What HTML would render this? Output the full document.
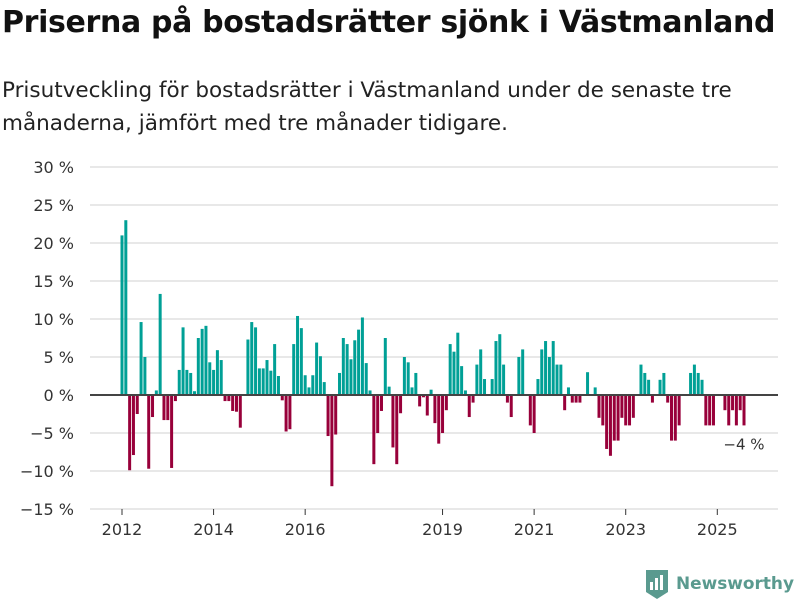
<!DOCTYPE html>
<html><head><meta charset="utf-8"><style>
body{margin:0;width:800px;height:600px;background:#fff;font-family:"Liberation Sans","DejaVu Sans",sans-serif;overflow:hidden}
h1{position:absolute;left:2px;top:5px;margin:0;font-size:30px;font-weight:bold;color:#111;font-family:"DejaVu Sans","Liberation Sans",sans-serif;letter-spacing:-0.35px;white-space:nowrap}
p{position:absolute;left:2px;top:74px;margin:0;font-size:21.5px;line-height:33px;color:#222;font-family:"DejaVu Sans","Liberation Sans",sans-serif;width:790px}
svg{position:absolute;left:0;top:0}
</style></head><body>
<h1>Priserna på bostadsrätter sjönk i Västmanland</h1>
<p>Prisutveckling för bostadsrätter i Västmanland under de senaste tre månaderna, jämfört med tre månader tidigare.</p>
<svg id="chart" width="800" height="600"></svg>
<script>
const values=[21.0,23.0,-9.9,-7.9,-2.5,9.6,5.0,-9.7,-2.9,0.6,13.3,-3.3,-3.3,-9.6,-0.8,3.3,8.9,3.3,2.9,0.5,7.5,8.7,9.1,4.3,3.3,5.9,4.6,-0.8,-0.8,-2.1,-2.2,-4.3,0,7.3,9.6,8.9,3.5,3.5,4.6,3.2,6.7,2.5,-0.7,-4.8,-4.5,6.7,10.4,8.8,2.6,1.0,2.6,6.9,5.1,1.7,-5.4,-12.0,-5.2,2.9,7.5,6.7,4.7,7.2,8.6,10.2,4.2,0.6,-9.1,-5.0,-2.1,7.5,1.1,-6.9,-9.1,-2.4,5.0,4.3,1.0,2.9,-1.5,-0.3,-2.7,0.7,-3.7,-6.4,-5.0,-2.0,6.7,5.7,8.2,3.8,0.6,-2.9,-1.0,4.0,6.0,2.1,0,2.1,7.1,8.0,4.0,-1.0,-2.9,0,5.0,6.0,0,-4.0,-5.0,2.1,6.0,7.1,5.0,7.1,4.0,4.0,-2.0,1.0,-1.0,-1.0,-1.0,0,3.0,0,1.0,-3.0,-4.0,-7.1,-8.0,-6.0,-6.0,-3.0,-4.0,-4.0,-3.0,0,4.0,2.9,2.0,-1.0,0,2.0,2.9,-1.0,-6.0,-6.0,-4.0,0,0,2.9,4.0,2.9,2.0,-4.0,-4.0,-4.0,0,0,-2.0,-4.0,-2.0,-4.0,-2.0,-4.0];
const yTicks=[30,25,20,15,10,5,0,-5,-10,-15];
const xYears=[2012,2014,2016,2019,2021,2023,2025];
const lastLabel="−4 %";
const NS="http://www.w3.org/2000/svg";
const svg=document.getElementById('chart');
const y=v=>395-v*7.6;
const x=i=>122+i*3.816;
function mk(t,a){const e=document.createElementNS(NS,t);for(const k in a)e.setAttribute(k,a[k]);svg.appendChild(e);return e;}
yTicks.forEach(t=>{
 if(t!==0){const g=mk('line',{x1:90,x2:778,y1:y(t),y2:y(t),stroke:'#e0e0e0','stroke-width':1.5});
 
 }
 const l=mk('text',{x:74,y:y(t)+6,'text-anchor':'end','font-size':16,fill:'#333','font-family':'DejaVu Sans,Liberation Sans,sans-serif'});
 l.textContent=(t<0?'−'+(-t):t)+' %';
 
 
});
values.forEach((v,i)=>{
 if(v===0)return;
 const b=mk('rect',{x:x(i)-1.5,width:3,y:v>0?y(v):y(0),height:Math.abs(y(v)-y(0)),fill:v>0?'#00a096':'#98003a'});
 
 
});
const z=mk('line',{x1:90,x2:778,y1:y(0),y2:y(0),stroke:'#444','stroke-width':2});


xYears.forEach(yr=>{
 const xi=x((yr-2012)*12);
 const tk=mk('line',{x1:xi,x2:xi,y1:509,y2:515,stroke:'#333','stroke-width':1});
 
 
 const l=mk('text',{x:xi,y:535,'text-anchor':'middle','font-size':16,fill:'#333','font-family':'DejaVu Sans,Liberation Sans,sans-serif'});
 l.textContent=yr;
 
 
});
const ll=mk('text',{x:744,y:y(values[values.length-1])+24,'text-anchor':'middle','font-size':15,fill:'#333','font-family':'DejaVu Sans,Liberation Sans,sans-serif'});
ll.textContent=lastLabel;


</script>
<svg width="800" height="600" style="pointer-events:none">
<g>
<path d="M646 570 h22 v22 l-11 7 l-11 -7 z" fill="#5a9a8f"/>
<rect x="650" y="582" width="3" height="8" fill="#fff"/><rect x="655" y="578" width="3" height="12" fill="#fff"/><rect x="660" y="575" width="3" height="15" fill="#fff"/>
<text x="676" y="589" font-size="17" font-weight="bold" fill="#5a9a8f" font-family="DejaVu Sans,Liberation Sans,sans-serif" textLength="118" lengthAdjust="spacingAndGlyphs">Newsworthy</text>
</g></svg>
</body></html>
